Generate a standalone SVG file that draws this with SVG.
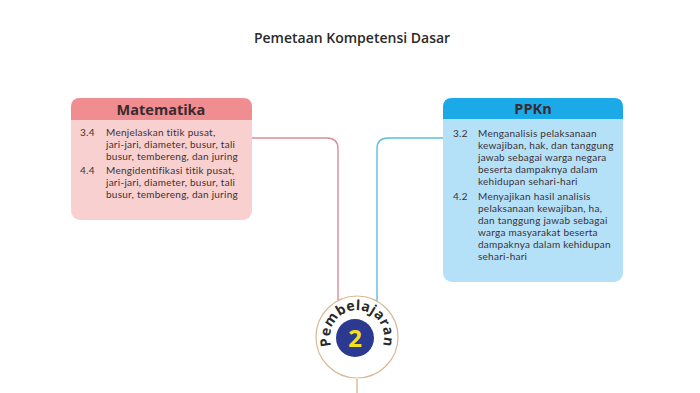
<svg xmlns="http://www.w3.org/2000/svg" width="700" height="393" viewBox="0 0 700 393">
<style>
.t{font-family:Lato,"Open Sans",sans-serif;font-size:10px;fill:#3b3034;letter-spacing:0.25px}
.h{font-family:"Open Sans","Noto Sans",sans-serif;font-size:14.5px;font-weight:700;fill:#3b2a2e;text-anchor:middle}
.title{font-family:"Open Sans","Noto Sans",sans-serif;font-size:14px;font-weight:600;fill:#2a2a2a;text-anchor:middle}
.c{fill:none;stroke-width:1.4}
</style>
<defs>
<path id="arc" d="M 333.6 350.5 A 27 27 0 1 1 380.4 350.5"/>
</defs>
<rect width="700" height="393" fill="#ffffff"/>
<text class="title" x="352" y="43">Pemetaan Kompetensi Dasar</text>
<g id="connectors">
<path class="c" stroke="#d98f95" d="M 250 138 H 327 Q 338 138 338 149 V 303"/>
<path class="c" stroke="#5bbfe0" d="M 445 138 H 388 Q 377 138 377 149 V 303"/>
<path class="c" stroke="#d9b893" d="M 357 379 V 393"/>
</g>
<g id="matematika">
<rect x="71" y="98" width="181" height="122" rx="9" fill="#f9d0d0"/>
<path d="M 80 98 H 243 Q 252 98 252 107 V 120 H 71 V 107 Q 71 98 80 98 Z" fill="#f08d91"/>
<text class="h" x="161" y="115">Matematika</text>
<text class="t" x="80" y="135.5">3.4</text>
<text class="t" x="106" y="135.5">Menjelaskan titik pusat,</text>
<text class="t" x="106" y="147.7">jari-jari, diameter, busur, tali</text>
<text class="t" x="106" y="159.9">busur, tembereng, dan juring</text>
<text class="t" x="80" y="173.8">4.4</text>
<text class="t" x="106" y="173.8">Mengidentifikasi titik pusat,</text>
<text class="t" x="106" y="186">jari-jari, diameter, busur, tali</text>
<text class="t" x="106" y="198.2">busur, tembereng, dan juring</text>
</g>
<g id="ppkn">
<rect x="443" y="98" width="180" height="184" rx="9" fill="#b4e1f8"/>
<path d="M 452 98 H 614 Q 623 98 623 107 V 119 H 443 V 107 Q 443 98 452 98 Z" fill="#1ba9e7"/>
<text class="h" x="533" y="114">PPKn</text>
<text class="t" x="453" y="137">3.2</text>
<text class="t" x="478" y="137">Menganalisis pelaksanaan</text>
<text class="t" x="478" y="149">kewajiban, hak, dan tanggung</text>
<text class="t" x="478" y="161">jawab sebagai warga negara</text>
<text class="t" x="478" y="173">beserta dampaknya dalam</text>
<text class="t" x="478" y="185">kehidupan sehari-hari</text>
<text class="t" x="453" y="200">4.2</text>
<text class="t" x="478" y="200">Menyajikan hasil analisis</text>
<text class="t" x="478" y="212">pelaksanaan kewajiban, ha,</text>
<text class="t" x="478" y="224">dan tanggung jawab sebagai</text>
<text class="t" x="478" y="236">warga masyarakat beserta</text>
<text class="t" x="478" y="248">dampaknya dalam kehidupan</text>
<text class="t" x="478" y="260">sehari-hari</text>
</g>
<g id="pembelajaran">
<circle cx="357" cy="337" r="41" fill="#ffffff" stroke="#d9b893" stroke-width="1.2"/>
<circle cx="355" cy="338" r="19" fill="#2b3990"/>
<text x="355" y="347" text-anchor="middle" font-family="Open Sans, Noto Sans, sans-serif" font-size="24" font-weight="700" fill="#f2e21a">2</text>
<text font-family="Open Sans, Noto Sans, sans-serif" font-size="14" font-weight="700" fill="#2a2a2a" letter-spacing="0.4" text-anchor="middle"><textPath href="#arc" startOffset="50%">Pembelajaran</textPath></text>
</g>
</svg>
